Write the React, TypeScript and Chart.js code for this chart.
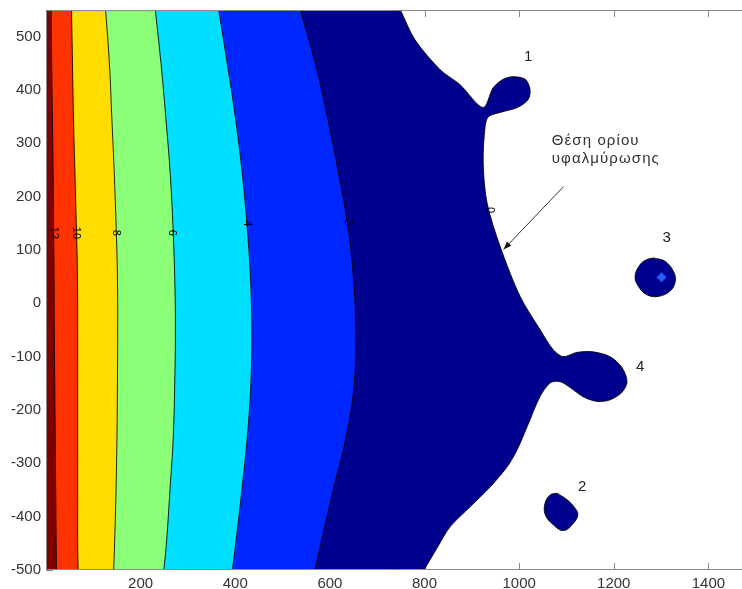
import React, { useEffect, useRef } from 'react';
import { Chart, registerables } from 'chart.js';

Chart.register(...registerables);

// Axis
const X_MIN = 0;
const X_MAX = 1471;
const Y_MIN = -500;
const Y_MAX = 550;
const xTicks = [200, 400, 600, 800, 1000, 1200, 1400];
const yTicks = [-500, -400, -300, -200, -100, 0, 100, 200, 300, 400, 500];

// Contour boundaries: x position of each level line at these y values
const yLevels = [550, 450, 350, 250, 150, 50, -50, -150, -250, -350, -450, -500];
const contour12 = [11, 12, 13.5, 15, 16, 17, 17.5, 18.5, 19.5, 20.5, 21.5, 22];
const contour10 = [54, 56, 58, 61, 64, 66.5, 67, 67, 67, 67, 67, 68];
const contour8 = [126, 134, 139, 144, 148, 151, 151.5, 151, 150, 148, 145, 143];
const contour6 = [231, 243, 253, 262, 268, 272, 273.5, 272, 269, 262, 254.5, 249];
const contour4 = [365, 383, 400, 414, 424.5, 432, 435, 433, 425.5, 414, 401, 394];
const contour2 = [537.5, 569, 594.5, 617, 637, 649.5, 654.5, 651.5, 634.5, 607, 581, 568.5];

// Level-0 boundary (salinization limit) with lobes 1 and 4
const front0X = [749, 780, 833, 875, 924, 945, 966, 987, 1013, 1023, 1019, 996, 960, 935, 928, 924, 932, 960, 1002, 1044, 1072, 1093, 1122, 1156, 1192, 1217, 1228, 1217, 1192, 1165, 1135, 1108, 1087, 1066, 1044, 1017, 996, 975, 939, 897, 854, 827, 799];
const front0Y = [550, 494, 438, 410, 367, 404, 420, 425, 420, 401, 382, 367, 358, 350, 331, 264, 189, 106, 13, -49, -87, -100, -92, -91, -100, -120, -147, -167, -181, -184, -175, -158, -147, -149, -175, -231, -274, -306, -344, -381, -419, -458, -500];

// Isolated patches 2 and 3
const blob2X = [1080, 1101, 1118, 1124, 1115, 1094, 1072, 1055, 1055, 1066, 1080];
const blob2Y = [-356, -368, -384, -396, -412, -426, -415, -396, -374, -359, -356];
const blob3X = [1284, 1308, 1326, 1330, 1319, 1294, 1270, 1252, 1245, 1256, 1270, 1284];
const blob3Y = [85, 79, 60, 41, 23, 13, 16, 32, 51, 73, 82, 85];
const wellX = [1301];
const wellY = [49];

// Contour labels
const contourLabels = ['12', '10', '8', '6', '4', '2', '0'];
const contourLabelX = [16, 64, 147, 267, 425, 639, 938];
const contourLabelY = [132, 132, 132, 132, 150, 152, 175];

// Patch labels
const patchLabels = ['1', '2', '3', '4'];
const patchLabelX = [1019, 1133, 1312, 1256];
const patchLabelY = [463, -345, 123, -119];

// Annotation
const annotationLines = ['Θέση ορίου', 'υφαλμύρωσης'];
const annotationX = 1069;
const annotationY = [304, 270];
const arrowFrom = { x: 1094, y: 219 };
const arrowTo = { x: 967, y: 101 };

const colors = {
  darkRed: '#800000',
  red: '#ff3300',
  yellow: '#ffdd00',
  green: '#8cff78',
  cyan: '#00dfff',
  blue: '#0026ff',
  navy: '#00008f',
};

const FONT = "'Liberation Sans', Arial, sans-serif";

// polygon of everything left of a boundary curve (extended past the plot edges)
function leftRegion(xs: number[], ys: number[]) {
  const n = xs.length;
  const topExt = { x: 2 * xs[0] - xs[1], y: 2 * ys[0] - ys[1] };
  const botExt = { x: 2 * xs[n - 1] - xs[n - 2], y: 2 * ys[n - 1] - ys[n - 2] };
  const pts: { x: number; y: number }[] = [{ x: -60, y: topExt.y }, topExt];
  xs.forEach((x, i) => pts.push({ x, y: ys[i] }));
  pts.push(botExt, { x: -60, y: botExt.y });
  return pts;
}

function closed(xs: number[], ys: number[]) {
  return xs.map((x, i) => ({ x, y: ys[i] }));
}

function regionDataset(data: any[], color: string, tension: number) {
  return {
    data,
    showLine: true,
    fill: 'shape',
    backgroundColor: color,
    borderColor: 'rgba(0,0,0,0.85)',
    borderWidth: 1,
    pointRadius: 0,
    tension,
    clip: 0,
  };
}

const decorPlugin = {
  id: 'decor',
  beforeDatasetsDraw(chart: any) {
    const { ctx, chartArea: a, scales } = chart;
    const x = scales.x;
    const y = scales.y;
    ctx.save();
    ctx.strokeStyle = '#8a8a8a';
    ctx.lineWidth = 1;
    ctx.beginPath();
    xTicks.forEach((v) => {
      const px = Math.round(x.getPixelForValue(v)) + 0.5;
      ctx.moveTo(px, a.bottom);
      ctx.lineTo(px, a.bottom - 7);
      ctx.moveTo(px, a.top);
      ctx.lineTo(px, a.top + 7);
    });
    yTicks.forEach((v) => {
      const py = Math.round(y.getPixelForValue(v)) + 0.5;
      ctx.moveTo(a.left, py);
      ctx.lineTo(a.left + 7, py);
    });
    ctx.stroke();
    ctx.restore();
  },
  afterDatasetsDraw(chart: any) {
    const { ctx, chartArea: a, scales } = chart;
    const x = scales.x;
    const y = scales.y;
    ctx.save();
    // axes box
    ctx.strokeStyle = '#8a8a8a';
    ctx.lineWidth = 1;
    ctx.beginPath();
    ctx.moveTo(a.right, a.top + 0.5);
    ctx.lineTo(a.left + 0.5, a.top + 0.5);
    ctx.lineTo(a.left + 0.5, a.bottom - 0.5);
    ctx.lineTo(a.right, a.bottom - 0.5);
    ctx.stroke();

    // contour labels (rotated)
    ctx.fillStyle = '#000';
    ctx.font = `11px ${FONT}`;
    ctx.textAlign = 'center';
    ctx.textBaseline = 'middle';
    contourLabels.forEach((t, i) => {
      const px = x.getPixelForValue(contourLabelX[i]);
      const py = y.getPixelForValue(contourLabelY[i]);
      ctx.save();
      ctx.translate(px, py);
      ctx.rotate(Math.PI / 2);
      ctx.fillText(t, 0, 0);
      ctx.restore();
    });

    // patch labels
    ctx.fillStyle = '#222';
    ctx.font = `15px ${FONT}`;
    patchLabels.forEach((t, i) => {
      ctx.fillText(t, x.getPixelForValue(patchLabelX[i]), y.getPixelForValue(patchLabelY[i]));
    });

    // annotation text
    ctx.fillStyle = '#333';
    ctx.font = `15px ${FONT}`;
    (ctx as any).letterSpacing = '1.1px';
    ctx.textAlign = 'left';
    annotationLines.forEach((t, i) => {
      ctx.fillText(t, x.getPixelForValue(annotationX), y.getPixelForValue(annotationY[i]));
    });
    (ctx as any).letterSpacing = '0px';

    // arrow
    const x1 = x.getPixelForValue(arrowFrom.x);
    const y1 = y.getPixelForValue(arrowFrom.y);
    const x2 = x.getPixelForValue(arrowTo.x);
    const y2 = y.getPixelForValue(arrowTo.y);
    ctx.strokeStyle = '#333';
    ctx.lineWidth = 1;
    ctx.beginPath();
    ctx.moveTo(x1, y1);
    ctx.lineTo(x2, y2);
    ctx.stroke();
    const ang = Math.atan2(y2 - y1, x2 - x1);
    const L = 8;
    const W = 3;
    ctx.fillStyle = '#111';
    ctx.beginPath();
    ctx.moveTo(x2, y2);
    ctx.lineTo(x2 - L * Math.cos(ang) + W * Math.sin(ang), y2 - L * Math.sin(ang) - W * Math.cos(ang));
    ctx.lineTo(x2 - L * Math.cos(ang) - W * Math.sin(ang), y2 - L * Math.sin(ang) + W * Math.cos(ang));
    ctx.closePath();
    ctx.fill();
    ctx.restore();
  },
};

export default function App() {
  const ref = useRef<HTMLCanvasElement | null>(null);

  useEffect(() => {
    document.body.style.margin = '0';
    const canvas = ref.current;
    if (!canvas) return;
    const chart = new Chart(canvas, {
      type: 'scatter',
      data: {
        datasets: [
          {
            data: closed(wellX, wellY),
            showLine: false,
            pointStyle: 'rectRot',
            pointRadius: 5,
            backgroundColor: '#2a5cff',
            borderColor: '#1030d0',
            borderWidth: 1,
            clip: 0,
          } as any,
          regionDataset(leftRegion(contour12, yLevels), colors.darkRed, 0.4),
          regionDataset(leftRegion(contour10, yLevels), colors.red, 0.4),
          regionDataset(leftRegion(contour8, yLevels), colors.yellow, 0.4),
          regionDataset(leftRegion(contour6, yLevels), colors.green, 0.4),
          regionDataset(leftRegion(contour4, yLevels), colors.cyan, 0.4),
          regionDataset(leftRegion(contour2, yLevels), colors.blue, 0.4),
          regionDataset(closed(blob2X, blob2Y), colors.navy, 0.4),
          regionDataset(closed(blob3X, blob3Y), colors.navy, 0.4),
          regionDataset(leftRegion(front0X, front0Y), colors.navy, 0.3),
        ],
      },
      options: {
        responsive: false,
        devicePixelRatio: 1,
        animation: false,
        events: [],
        layout: { autoPadding: false, padding: { top: 10, left: 0, right: 0, bottom: 0 } },
        plugins: {
          legend: { display: false },
          tooltip: { enabled: false },
        },
        elements: { line: { capBezierPoints: false } },
        scales: {
          x: {
            type: 'linear',
            min: X_MIN,
            max: X_MAX,
            afterBuildTicks: (s: any) => {
              s.ticks = xTicks.map((v) => ({ value: v }));
            },
            afterFit: (s: any) => {
              s.height = 19;
              s.paddingLeft = 0;
              s.paddingRight = 0;
            },
            ticks: {
              font: { family: FONT, size: 15 },
              color: '#333',
              padding: 5,
              maxRotation: 0,
              autoSkip: false,
              callback: (v: any) => String(v),
            },
            grid: { display: false, drawTicks: false },
            border: { display: false },
          },
          y: {
            type: 'linear',
            min: Y_MIN,
            max: Y_MAX,
            afterBuildTicks: (s: any) => {
              s.ticks = yTicks.map((v) => ({ value: v }));
            },
            afterFit: (s: any) => {
              s.width = 46;
              s.paddingTop = 0;
              s.paddingBottom = 0;
            },
            ticks: {
              font: { family: FONT, size: 15 },
              color: '#333',
              padding: 5,
              autoSkip: false,
              callback: (v: any) => String(v),
            },
            grid: { display: false, drawTicks: false },
            border: { display: false },
          },
        },
      } as any,
      plugins: [decorPlugin],
    });
    return () => chart.destroy();
  }, []);

  return <canvas ref={ref} width={742} height={589} style={{ display: 'block' }} />;
}
